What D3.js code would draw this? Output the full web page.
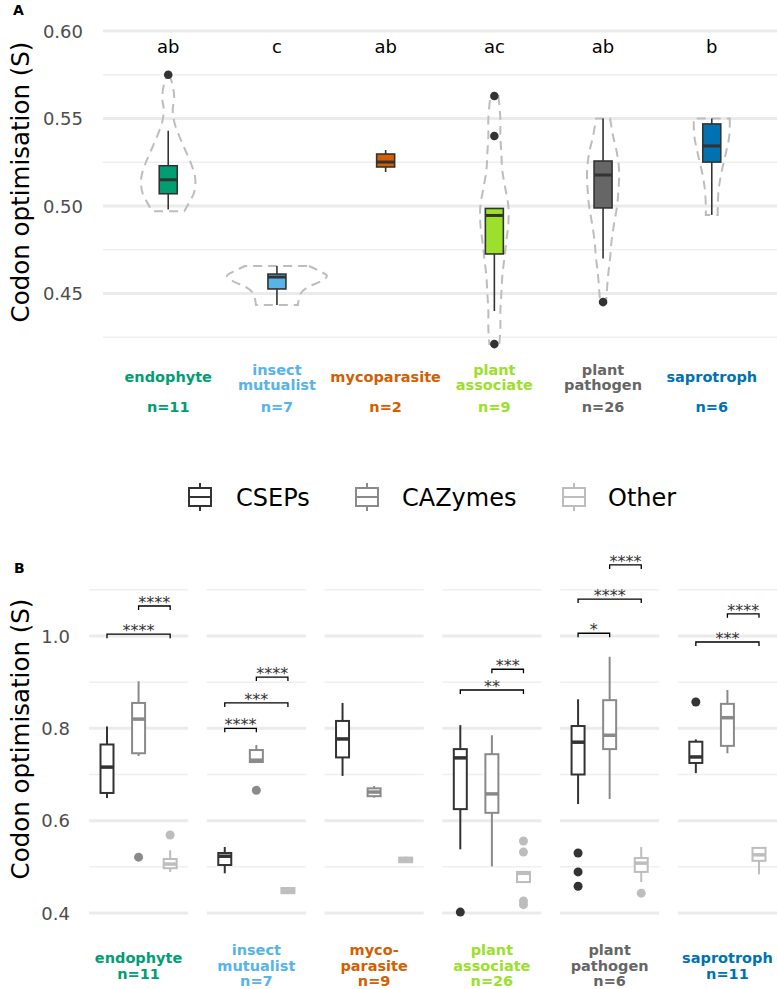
<!DOCTYPE html>
<html><head><meta charset="utf-8">
<script src="https://cdn.jsdelivr.net/npm/d3@7"></script>
<style>body{margin:0;background:#fff} svg{display:block;font-family:"DejaVu Sans",sans-serif}</style>
</head><body><svg id="c" width="777" height="989"></svg>
<script>
// ---------- DATA ----------
const categories = ["endophyte","insect mutualist","mycoparasite","plant associate","plant pathogen","saprotroph"];
const catColors = ["#009E73","#56B4E9","#D55E00","#9BE02B","#666666","#0072B2"];
// Panel A
const labelsA = [["endophyte"],["insect","mutualist"],["mycoparasite"],["plant","associate"],["plant","pathogen"],["saprotroph"]];
const nA = [11,7,2,9,26,6];
const lettersA = ["ab","c","ab","ac","ab","b"];
const loA  = [0.498, 0.4434, 0.5194, 0.440, 0.470, 0.4949];
const q1A  = [0.507, 0.4526, 0.5223, 0.4726, 0.4989, 0.5251];
const medA = [0.515, 0.4594, 0.5251, 0.4946, 0.5177, 0.5343];
const q3A  = [0.523, 0.4611, 0.5297, 0.4986, 0.5257, 0.5469];
const hiA  = [0.543, 0.4657, 0.532, 0.4986, 0.550, 0.550];
const outA = [[0.575],[],[],[0.5629,0.540,0.4211],[0.4451],[]];
// violin density profiles [value, relative density]
const violinA = [
  [[0.575,0.02],[0.570,0.08],[0.562,0.12],[0.555,0.09],[0.548,0.12],[0.540,0.22],[0.532,0.34],[0.524,0.46],[0.516,0.54],[0.508,0.52],[0.502,0.42],[0.497,0.32]],
  [[0.4657,0.64],[0.463,0.84],[0.460,1.0],[0.457,0.88],[0.454,0.64],[0.451,0.50],[0.447,0.44],[0.4434,0.42]],
  [],
  [[0.5629,0.08],[0.55,0.12],[0.54,0.12],[0.53,0.14],[0.52,0.16],[0.51,0.22],[0.50,0.28],[0.49,0.28],[0.48,0.24],[0.47,0.20],[0.46,0.16],[0.45,0.14],[0.44,0.12],[0.43,0.12],[0.4211,0.10]],
  [[0.55,0.14],[0.54,0.20],[0.53,0.28],[0.52,0.32],[0.51,0.31],[0.50,0.28],[0.49,0.22],[0.48,0.17],[0.47,0.14],[0.46,0.10],[0.4451,0.06]],
  [[0.55,0.36],[0.54,0.35],[0.53,0.28],[0.52,0.20],[0.51,0.14],[0.50,0.12],[0.4949,0.12]]
];
const ticksA = [0.45,0.50,0.55,0.60];
const minorA = [0.425,0.475,0.525,0.575];

// Panel B
const groups = ["CSEPs","CAZymes","Other"];
const groupColors = ["#333333","#8a8a8a","#bdbdbd"];
const labelsB = [["endophyte"],["insect","mutualist"],["myco-","parasite"],["plant","associate"],["plant","pathogen"],["saprotroph"]];
const nB = [11,7,9,26,6,11];
// per facet, per group: [lo, q1, median, q3, hi]
const statsB = [
  [[0.649,0.660,0.716,0.765,0.804],[0.740,0.746,0.820,0.855,0.902],[0.489,0.497,0.506,0.517,0.536]],
  [[0.486,0.504,0.523,0.530,0.543],[0.727,0.727,0.731,0.753,0.764],[0.441,0.443,0.448,0.454,0.456]],
  [[0.697,0.737,0.777,0.816,0.855],[0.650,0.653,0.662,0.670,0.675],[0.509,0.510,0.515,0.520,0.522]],
  [[0.538,0.625,0.736,0.755,0.807],[0.501,0.617,0.658,0.744,0.785],[0.467,0.467,0.486,0.489,0.489]],
  [[0.636,0.700,0.770,0.805,0.863],[0.647,0.755,0.785,0.861,0.955],[0.467,0.489,0.508,0.519,0.543]],
  [[0.703,0.725,0.738,0.771,0.776],[0.746,0.762,0.823,0.853,0.883],[0.484,0.513,0.526,0.541,0.541]]
];
const outB = [
  [[],[0.521],[0.569]],
  [[],[0.666],[]],
  [[],[],[]],
  [[0.402],[],[0.556,0.532,0.426,0.418]],
  [[0.530,0.489,0.458],[],[0.443]],
  [[0.857],[],[]]
];
const bracketsB = [
  [["CSEPs","Other",1.004,"****"],["CAZymes","Other",1.065,"****"]],
  [["CSEPs","CAZymes",0.800,"****"],["CSEPs","Other",0.855,"***"],["CAZymes","Other",0.911,"****"]],
  [],
  [["CSEPs","Other",0.883,"**"],["CAZymes","Other",0.928,"***"]],
  [["CSEPs","CAZymes",1.006,"*"],["CSEPs","Other",1.080,"****"],["CAZymes","Other",1.154,"****"]],
  [["CSEPs","Other",0.987,"***"],["CAZymes","Other",1.048,"****"]]
];
const ticksB = [0.4,0.6,0.8,1.0];
const minorB = [0.5,0.7,0.9,1.1];

// ---------- DRAW ----------
const svg = d3.select("#c");
const gridMajor = "#ebebeb", gridMinor = "#efefef";

// ===== Panel A =====
const yA = d3.scaleLinear().domain([0.4,0.6]).range([381,31]);
const xA = d3.scalePoint().domain(categories).range([103,777]).padding(0.6);
const wA = d3.scaleLinear().domain([0,1]).range([0,50]);
const gA = svg.append("g");
gA.selectAll(".mi").data(minorA).join("line").attr("x1",103).attr("x2",777)
  .attr("y1",d=>yA(d)).attr("y2",d=>yA(d)).attr("stroke",gridMinor).attr("stroke-width",1.5);
gA.selectAll(".ma").data(ticksA).join("line").attr("x1",103).attr("x2",777)
  .attr("y1",d=>yA(d)).attr("y2",d=>yA(d)).attr("stroke",gridMajor).attr("stroke-width",3);
const axA = gA.append("g").attr("transform","translate(83,0)")
  .call(d3.axisLeft(yA).tickValues(ticksA).tickSize(0).tickPadding(0).tickFormat(d3.format(".2f")));
axA.select(".domain").remove();
axA.selectAll("text").attr("font-size",18).attr("fill","#4d4d4d").attr("font-family","DejaVu Sans").attr("dy","0.35em");

svg.append("text").attr("transform","translate(29,182) rotate(-90)").attr("text-anchor","middle")
  .attr("font-size",24.5).attr("fill","#000").text("Codon optimisation (S)");
svg.append("text").attr("x",13).attr("y",15).attr("font-size",14).attr("font-weight","bold").text("A");

const lineGen = d3.line().curve(d3.curveCatmullRom);
categories.forEach((c,i)=>{
  const cx = xA(c);
  const prof = violinA[i];
  if(prof.length){
    const right = lineGen(prof.map(p=>[cx+wA(p[1]), yA(p[0])]));
    const left = lineGen(prof.slice().reverse().map(p=>[cx-wA(p[1]), yA(p[0])]));
    gA.append("path").attr("d", right + "L" + left.slice(1) + "Z")
      .attr("fill","none").attr("stroke","#bdbdbd").attr("stroke-width",2).attr("stroke-dasharray","9,6");
  }
  const bw = 18;
  gA.append("line").attr("x1",cx).attr("x2",cx).attr("y1",yA(hiA[i])).attr("y2",yA(q3A[i])).attr("stroke","#333").attr("stroke-width",1.6);
  gA.append("line").attr("x1",cx).attr("x2",cx).attr("y1",yA(q1A[i])).attr("y2",yA(loA[i])).attr("stroke","#333").attr("stroke-width",1.6);
  gA.append("rect").attr("x",cx-bw/2).attr("width",bw).attr("y",yA(q3A[i])).attr("height",yA(q1A[i])-yA(q3A[i]))
    .attr("fill",catColors[i]).attr("stroke","#333").attr("stroke-width",1.6);
  gA.append("line").attr("x1",cx-bw/2).attr("x2",cx+bw/2).attr("y1",yA(medA[i])).attr("y2",yA(medA[i])).attr("stroke","#333").attr("stroke-width",3);
  outA[i].forEach(v=>gA.append("circle").attr("cx",cx).attr("cy",yA(v)).attr("r",4.3).attr("fill","#333"));
  gA.append("text").attr("x",cx).attr("y",53).attr("text-anchor","middle").attr("font-size",18).attr("fill","#000").text(lettersA[i]);
  const lines = labelsA[i];
  const base = lines.length===1 ? [382] : [374.5,390];
  lines.forEach((t,k)=>gA.append("text").attr("x",cx).attr("y",base[k]).attr("text-anchor","middle")
    .attr("font-size",14.5).attr("font-weight","bold").attr("fill",catColors[i]).text(t));
  gA.append("text").attr("x",cx).attr("y",412).attr("text-anchor","middle")
    .attr("font-size",14.5).attr("font-weight","bold").attr("fill",catColors[i]).text("n="+nA[i]);
});

// ===== Legend =====
const legX = [200, 367, 574], legTX = [236, 402, 608];
groups.forEach((g,i)=>{
  const lg = svg.append("g");
  const cx = legX[i];
  lg.append("line").attr("x1",cx).attr("x2",cx).attr("y1",483).attr("y2",511).attr("stroke",groupColors[i]).attr("stroke-width",2);
  lg.append("rect").attr("x",cx-11).attr("y",488).attr("width",22).attr("height",18).attr("fill","#fff").attr("stroke",groupColors[i]).attr("stroke-width",2);
  lg.append("line").attr("x1",cx-11).attr("x2",cx+11).attr("y1",497).attr("y2",497).attr("stroke",groupColors[i]).attr("stroke-width",2);
  lg.append("text").attr("x",legTX[i]).attr("y",506).attr("font-size",24).attr("fill","#000").text(g);
});

// ===== Panel B =====
const yB = d3.scaleLinear().domain([0.4,1.0]).range([913,636]);
const xF = d3.scaleBand().domain(categories).range([89,777]).paddingInner(0.158).paddingOuter(0);
const xG = d3.scalePoint().domain(groups).range([0,xF.bandwidth()]).padding(0.57);
const gB = svg.append("g");
const axB = gB.append("g").attr("transform","translate(70,0)")
  .call(d3.axisLeft(yB).tickValues(ticksB).tickSize(0).tickPadding(0).tickFormat(d3.format(".1f")));
axB.select(".domain").remove();
axB.selectAll("text").attr("font-size",18).attr("fill","#4d4d4d").attr("font-family","DejaVu Sans").attr("dy","0.35em");
svg.append("text").attr("transform","translate(29,739) rotate(-90)").attr("text-anchor","middle")
  .attr("font-size",24.5).attr("fill","#000").text("Codon optimisation (S)");
svg.append("text").attr("x",14).attr("y",573).attr("font-size",14).attr("font-weight","bold").text("B");

categories.forEach((c,i)=>{
  const fx = xF(c), fw = xF.bandwidth();
  const fg = gB.append("g").attr("transform",`translate(${fx},0)`);
  fg.selectAll(".mi").data(minorB).join("line").attr("x1",0).attr("x2",fw)
    .attr("y1",d=>yB(d)).attr("y2",d=>yB(d)).attr("stroke",gridMinor).attr("stroke-width",1.5);
  fg.selectAll(".ma").data(ticksB).join("line").attr("x1",0).attr("x2",fw)
    .attr("y1",d=>yB(d)).attr("y2",d=>yB(d)).attr("stroke",gridMajor).attr("stroke-width",3);
  groups.forEach((g,j)=>{
    const s = statsB[i][j], cx = xG(g), col = groupColors[j], bw = 13;
    fg.append("line").attr("x1",cx).attr("x2",cx).attr("y1",yB(s[4])).attr("y2",yB(s[3])).attr("stroke",col).attr("stroke-width",2);
    fg.append("line").attr("x1",cx).attr("x2",cx).attr("y1",yB(s[1])).attr("y2",yB(s[0])).attr("stroke",col).attr("stroke-width",2);
    fg.append("rect").attr("x",cx-bw/2).attr("width",bw).attr("y",yB(s[3])).attr("height",yB(s[1])-yB(s[3]))
      .attr("fill","#fff").attr("stroke",col).attr("stroke-width",2);
    fg.append("line").attr("x1",cx-bw/2).attr("x2",cx+bw/2).attr("y1",yB(s[2])).attr("y2",yB(s[2])).attr("stroke",col).attr("stroke-width",3.5);
    outB[i][j].forEach(v=>fg.append("circle").attr("cx",cx).attr("cy",yB(v)).attr("r",4.5).attr("fill",col));
  });
  bracketsB[i].forEach(b=>{
    const x1 = xG(b[0]), x2 = xG(b[1]), yy = yB(b[2]);
    fg.append("path").attr("d",`M${x1},${yy+4}V${yy}H${x2}V${yy+4}`).attr("fill","none").attr("stroke","#000").attr("stroke-width",1.3);
    fg.append("text").attr("x",(x1+x2)/2).attr("y",yy+2).attr("text-anchor","middle").attr("font-size",16).attr("fill","#333").text(b[3]);
  });
  const lines = labelsB[i].concat(["n="+nB[i]]);
  const base = lines.length===3 ? [955,970.5,985.5] : [963,978.5];
  lines.forEach((t,k)=>fg.append("text").attr("x",fw/2).attr("y",base[k]).attr("text-anchor","middle")
    .attr("font-size",14.5).attr("font-weight","bold").attr("fill",catColors[i]).text(t));
});
</script></body></html>
